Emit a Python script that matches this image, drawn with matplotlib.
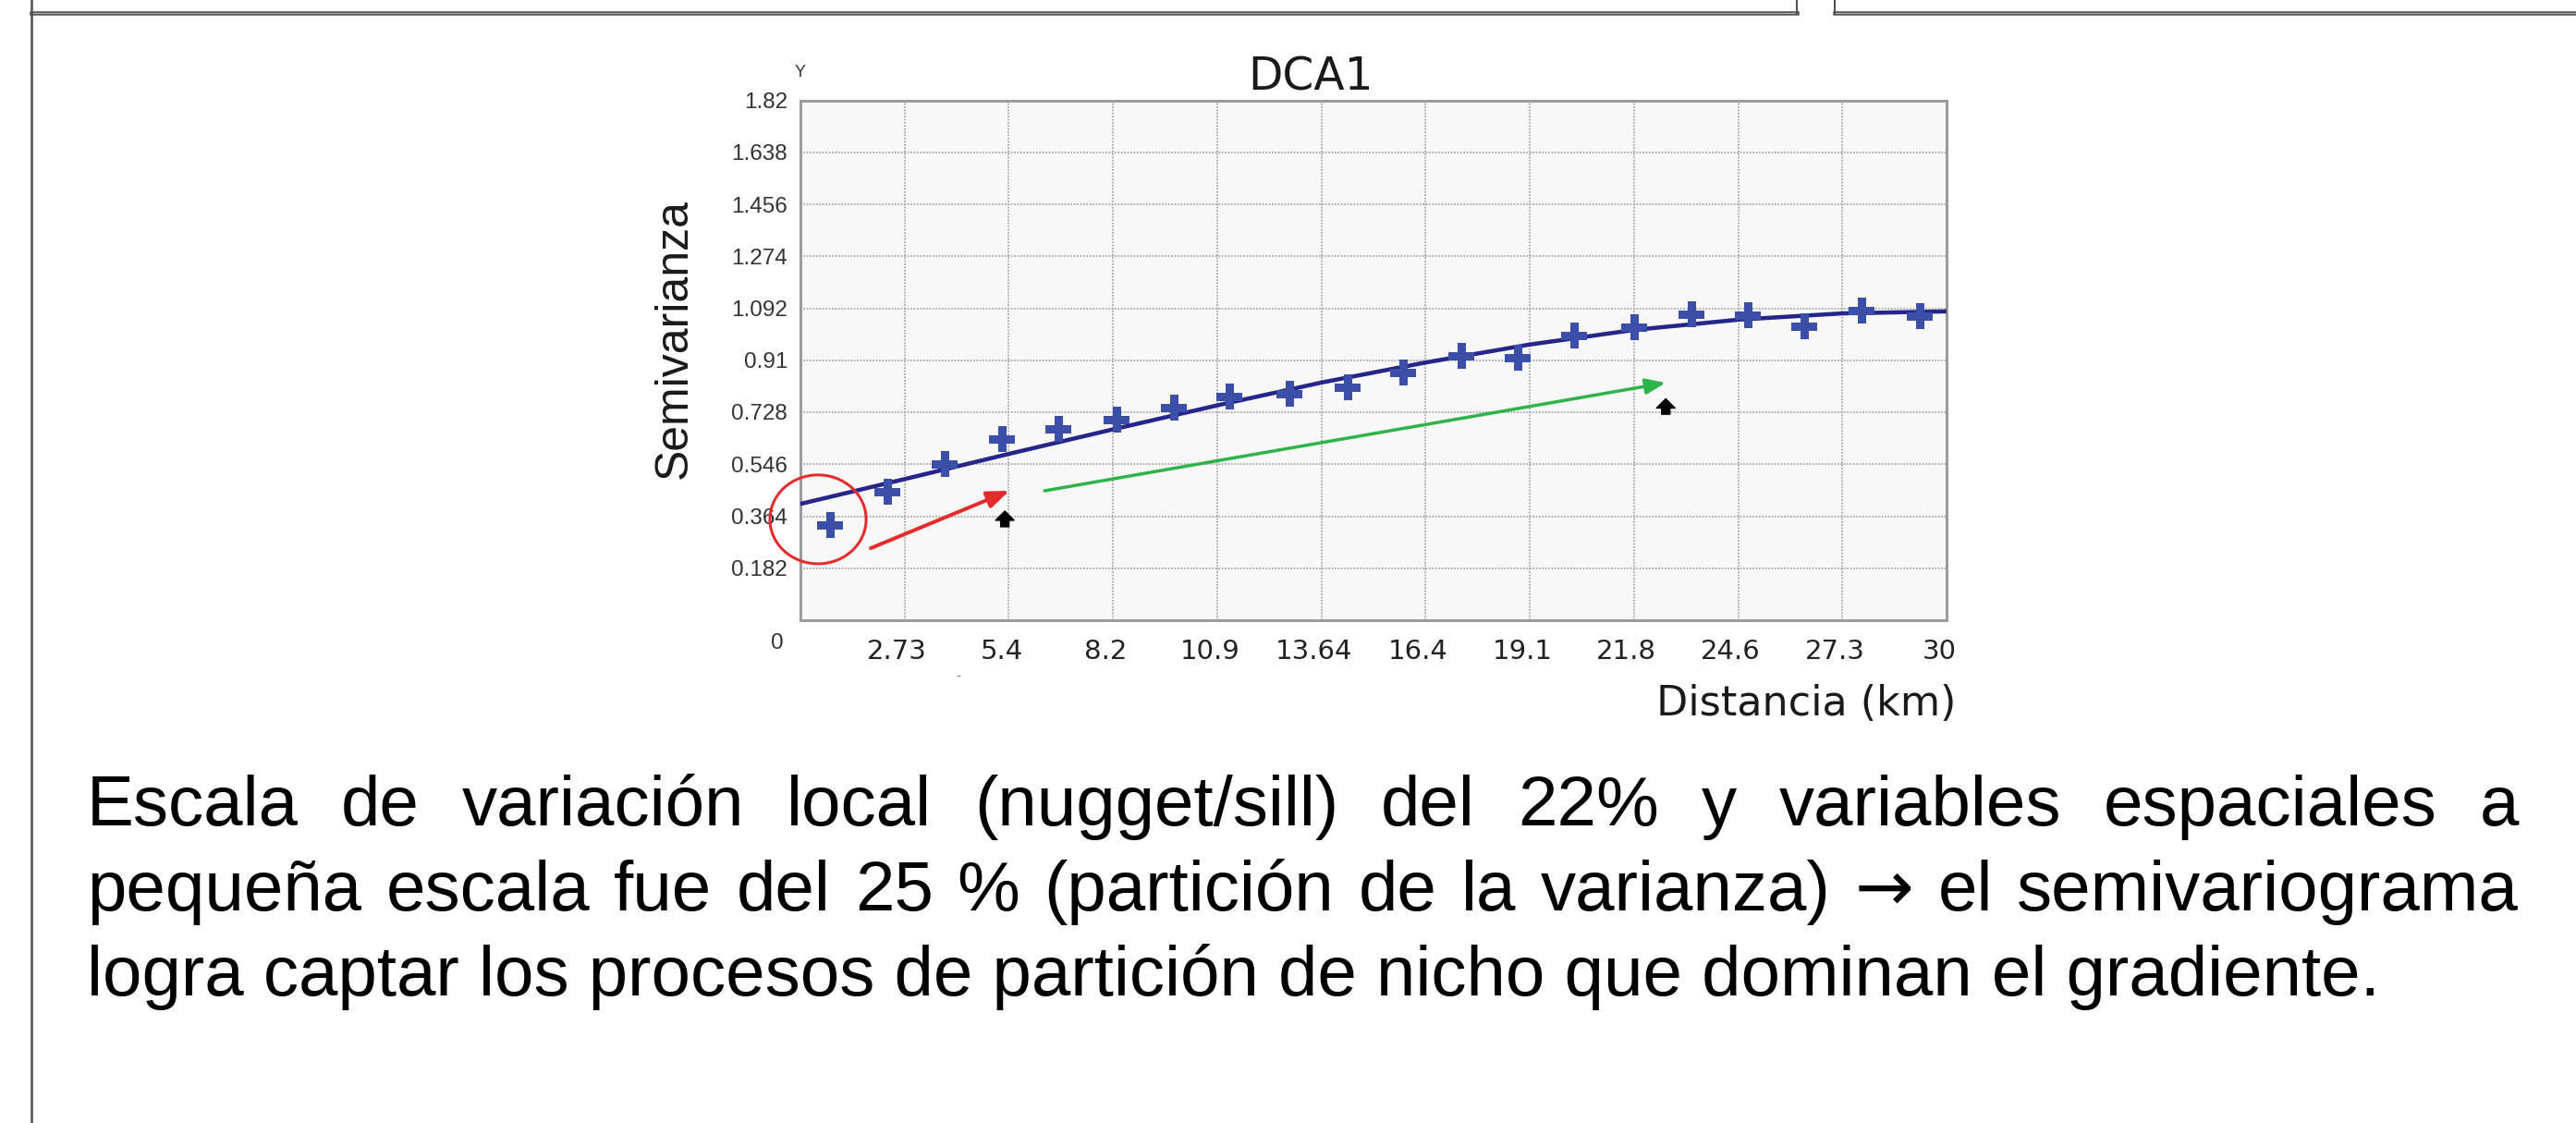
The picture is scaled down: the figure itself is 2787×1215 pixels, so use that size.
import matplotlib
matplotlib.use("Agg")
import matplotlib.pyplot as plt
from matplotlib.patches import Ellipse
from matplotlib.lines import Line2D
from matplotlib.transforms import blended_transform_factory, ScaledTranslation

W, H = 2787, 1215
DPI = 100

# empirical semivariogram (lag distance in km, semivariance)
lag_km = [0.77, 2.27, 3.77, 5.27, 6.75, 8.27, 9.78, 11.23, 12.80, 14.32,
          15.78, 17.30, 18.78, 20.25, 21.82, 23.32, 24.80, 26.28, 27.78, 29.30]
semivar = [0.333, 0.449, 0.547, 0.634, 0.670, 0.702, 0.744, 0.783, 0.793, 0.815,
           0.867, 0.925, 0.919, 0.996, 1.026, 1.071, 1.068, 1.029, 1.084, 1.064]

# fitted model
model_km = [0, 2.73, 5.45, 8.18, 10.91, 13.64, 16.36, 19.09, 21.82, 24.55, 27.27, 30]
model_semivar = [0.407, 0.494, 0.582, 0.668, 0.752, 0.832, 0.902, 0.965, 1.016, 1.052, 1.074, 1.081]

x_ticks = [2.727, 5.455, 8.182, 10.909, 13.636, 16.364, 19.091, 21.818, 24.545, 27.273, 30.0]
x_tick_labels = ["2.73", "5.4", "8.2", "10.9", "13.64", "16.4", "19.1", "21.8", "24.6", "27.3", "30"]
y_ticks = [0.182, 0.364, 0.546, 0.728, 0.91, 1.092, 1.274, 1.456, 1.638, 1.82]
y_tick_labels = ["0.182", "0.364", "0.546", "0.728", "0.91", "1.092", "1.274", "1.456", "1.638", "1.82"]

body_lines = [
    "Escala de variación local (nugget/sill) del 22% y variables espaciales a",
    "pequeña escala fue del 25 % (partición de la varianza) \u2192 el semivariograma",
    "logra captar los procesos de partición de nicho que dominan el gradiente.",
]

RED = "#e52b2b"
GREEN = "#2fb34a"
NAVY = "#26258a"
BLUE = "#3b4fa8"
BODY_FONT = ["Liberation Sans", "DejaVu Sans"]
ARROW_FONT = ["DejaVu Sans"]


def pt(px):
    return px * 72.0 / DPI


fig = plt.figure(figsize=(W / DPI, H / DPI), dpi=DPI)
fig.patch.set_facecolor("white")

# background axes in pixel coordinates for page frame and free text
bg = fig.add_axes([0, 0, 1, 1], zorder=0)
bg.set_xlim(0, W)
bg.set_ylim(H, 0)
bg.axis("off")

# page frame (slide borders)
bg.add_line(Line2D([34, 1944], [13.5, 13.5], color="#505050", lw=pt(4.5)))
bg.add_line(Line2D([34, 1944], [13.5, 13.5], color="#b0b0b0", lw=pt(1.2)))
bg.add_line(Line2D([1985, W], [13.5, 13.5], color="#505050", lw=pt(4.5)))
bg.add_line(Line2D([1985, W], [13.5, 13.5], color="#b0b0b0", lw=pt(1.2)))
bg.add_line(Line2D([34, 34], [0, H], color="#505050", lw=pt(2.5)))
bg.add_line(Line2D([1944, 1944], [0, 15], color="#505050", lw=pt(2)))
bg.add_line(Line2D([1985, 1985], [0, 15], color="#505050", lw=pt(2)))

# chart
ax = fig.add_axes([866 / W, 1 - 671 / H, (2106 - 866) / W, (671 - 108.5) / H], zorder=2)
ax.set_facecolor("#f8f8f8")
ax.set_xlim(0, 30)
ax.set_ylim(0, 1.82)
for side in ax.spines.values():
    side.set_color("#9c9c9c")
    side.set_linewidth(pt(3))

ax.set_xticks(x_ticks)
ax.set_xticklabels([])
ax.set_yticks(y_ticks, y_tick_labels, family="Liberation Sans", fontsize=17.5, color="#333333")
ax.tick_params(axis="both", length=0)
ax.tick_params(axis="y", pad=pt(14))
ax.grid(True, color="#a0a0a0", linestyle=(0, (1, 1)), linewidth=pt(1.7))
ax.set_axisbelow(True)

ax.plot(model_km, model_semivar, color=NAVY, lw=pt(4.5), solid_capstyle="butt", zorder=3)
ax.plot(lag_km, semivar, linestyle="none", marker="P", markersize=pt(27),
        color=BLUE, markeredgewidth=0, zorder=4)

# annotations drawn on top of the chart
ax.add_patch(Ellipse((0.46, 0.353), width=2.52, height=0.311, fill=False,
                     ec=RED, lw=pt(3), clip_on=False, zorder=6))
ax.annotate("", xy=(5.47, 0.453), xytext=(1.84, 0.252),
            arrowprops=dict(arrowstyle="-|>,head_length=0.9,head_width=0.35", color=RED,
                            lw=pt(4), shrinkA=0, shrinkB=0, mutation_scale=pt(22)), zorder=6)
ax.annotate("", xy=(22.65, 0.831), xytext=(6.39, 0.453),
            arrowprops=dict(arrowstyle="-|>,head_length=0.9,head_width=0.35", color=GREEN,
                            lw=pt(3.5), shrinkA=0, shrinkB=0, mutation_scale=pt(20)), zorder=6)
for bx, y0, y1 in [(5.35, 0.327, 0.382), (22.65, 0.721, 0.775)]:
    ax.annotate("", xy=(bx, y1), xytext=(bx, y0),
                arrowprops=dict(arrowstyle="simple,head_length=0.5,head_width=1.0,tail_width=0.45",
                                color="black", shrinkA=0, shrinkB=0, mutation_scale=pt(20)), zorder=6)

# x tick labels placed at their ticks with a fixed baseline
xlab_tr = blended_transform_factory(
    ax.transData + ScaledTranslation(-8 / DPI, 0, fig.dpi_scale_trans), bg.transData)
for xv, lab in zip(x_ticks, x_tick_labels):
    ax.text(xv, 713, lab, transform=xlab_tr, ha="center", va="baseline",
            family="DejaVu Sans", fontsize=21, color="#222222", clip_on=False)

bg.text(841, 702, "0", ha="center", va="baseline", family="Liberation Sans",
        fontsize=17.5, color="#333333")
bg.text(866, 83, "Y", ha="center", va="baseline", family="Liberation Sans",
        fontsize=13, color="#333333")
bg.text(1037, 733, "-", ha="center", va="center", family="DejaVu Sans",
        fontsize=10, color="#777777")
bg.text(1418, 97, "DCA1", ha="center", va="baseline", family="DejaVu Sans",
        fontsize=35, color="#1a1a1a")
bg.text(2116, 774, "Distancia (km)", ha="right", va="baseline", family="DejaVu Sans",
        fontsize=32, color="#1a1a1a")
bg.text(730, 367, "Semivarianza", rotation=90, ha="center", va="center",
        family="Liberation Sans", fontsize=36, color="#1a1a1a")

# body paragraph, justified like the slide text
renderer = fig.canvas.get_renderer()
left_px, right_px = 94, 2725
last_width = 2478
probe = bg.text(0, 0, body_lines[2], family=BODY_FONT, fontsize=40)
bb = probe.get_window_extent(renderer)
body_size = 40 * last_width / bb.width
probe.remove()

baselines = [893, 985, 1077]
for idx, (line, base) in enumerate(zip(body_lines, baselines)):
    if idx == len(body_lines) - 1:
        bg.text(left_px, base, line, family=BODY_FONT, fontsize=body_size,
                ha="left", va="baseline", color="black")
        continue
    words = line.split(" ")
    arts = [bg.text(0, base, w, family=ARROW_FONT if w == "\u2192" else BODY_FONT,
                    fontsize=body_size, ha="left", va="baseline", color="black")
            for w in words]
    widths = [a.get_window_extent(renderer).width for a in arts]
    gap = (right_px - left_px - sum(widths)) / (len(words) - 1)
    xpos = left_px
    for a, wd in zip(arts, widths):
        a.set_x(xpos)
        xpos += wd + gap

fig.savefig("out.png", dpi=DPI)
